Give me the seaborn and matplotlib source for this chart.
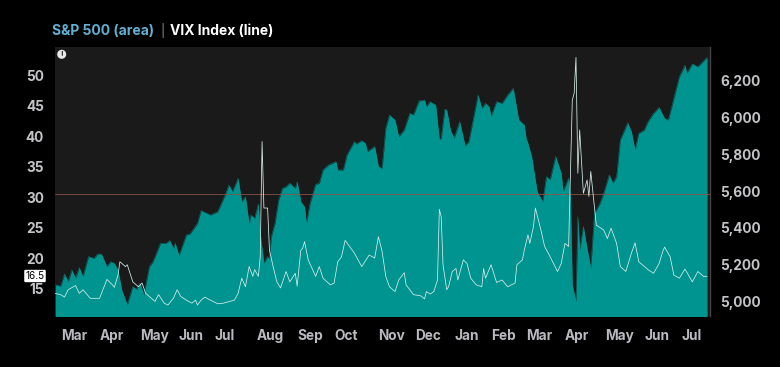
import pandas as pd
import matplotlib.pyplot as plt
import seaborn as sns

# Values, x is the trading session number
sp_sessions = [0,3,5,7,9,11,13,15,18,21,23,25,28,30,32,34,36,39,42,44,46,48,51,53,57,60,62,64,65,67,71,73,77,79,84,88,92,94,96,99,
               101,103,105,106,108,110,111,113,115,116,117,119,121,123,125,127,130,131,133,135,136,138,141,143,145,148,152,153,156,158,162,163,166,168,169,173,175,177,179,181,
               184,186,189,192,194,197,200,201,203,206,208,209,211,212,214,216,219,222,224,229,231,233,235,236,239,242,245,248,251,254,255,256,258,261,264,266,268,271,274,275,278,279,280,282,283,284,286,288,290,292,295,297,300,302,304,306,310,312,314,316,319,321,324,327,330,332,335,338,341,342,345,348,353]
sp_values = [5092,5086,5151,5110,5173,5128,5186,5137,5245,5236,5259,5259,5191,5218,5209,5173,5065,4984,5083,5068,5101,5038,5191,5218,5317,5317,5332,5290,5317,5250,5362,5368,5425,5494,5470,5488,5578,5632,5596,5669,
             5542,5569,5422,5470,5452,5530,5371,5209,5245,5227,5353,5425,5551,5614,5623,5642,5614,5650,5542,5515,5425,5533,5636,5642,5714,5741,5759,5714,5714,5795,5867,5854,5872,5858,5813,5840,5732,5723,5939,6011,
             5984,5894,5930,6020,6011,6087,6092,6056,6083,6065,5879,5885,6042,6038,5930,5885,5975,5843,5867,6119,6047,6074,6056,6002,6083,6074,6119,6155,5984,5957,5885,5858,5786,5596,5542,5678,5660,5786,5696,5596,5669,5569,5092,5002,5461,5281,5407,5290,5182,5479,5533,5587,5687,5642,5678,5876,5969,5921,5822,5912,5930,5975,6020,6052,5993,5984,6101,6218,6281,6236,6287,6272,6323]

vix_sessions = [0,3,5,7,11,13,15,19,23,24,28,31,32,34,35,38,39,42,45,47,49,54,56,59,61,64,66,68,71,74,76,77,79,81,84,88,91,97,99,
                101,103,105,107,108,110,111,112,113,115,116,118,120,122,125,127,130,131,133,134,135,137,141,143,145,149,151,153,155,157,162,166,170,173,175,177,179,181,
                184,186,189,190,194,198,200,201,203,205,207,208,209,210,212,213,215,217,218,221,223,225,228,231,232,233,236,239,242,245,249,250,253,254,256,257,259,260,263,265,267,272,274,276,278,280,281,282,283,284,286,288,289,290,293,297,299,301,304,306,309,312,314,316,321,324,327,329,330,333,335,338,341,345,348,351,353]
vix_values = [14.2,14.0,13.6,14.8,15.5,14.2,14.8,13.4,13.4,13.4,16.5,15.6,15.2,17.2,19.4,18.6,18.9,16.1,15.3,15.9,14.2,12.9,14.0,12.6,12.3,13.4,14.8,13.7,13.1,12.6,13.1,12.3,13.1,13.6,13.1,12.5,12.6,13.1,14.2,
              16.7,15.3,18.6,17.0,18.1,17.0,20.2,39.1,28.2,28.2,21.3,18.6,16.1,15.1,17.8,16.1,17.5,15.4,21.3,21.6,22.7,19.7,17.0,18.6,16.7,15.6,15.9,19.4,20.2,22.9,20.8,18.6,20.5,20.0,23.5,21.1,17.0,15.3,
              14.5,16.4,17.6,15.6,14.0,13.8,13.3,14.5,14.1,14.5,16.4,28.0,26.8,18.9,14.8,15.3,17.8,18.3,16.4,19.7,19.1,16.7,15.6,15.3,18.3,16.7,18.9,16.0,16.4,15.3,15.9,18.9,19.7,21.3,23.8,22.4,25.2,28.2,24.6,21.9,20.8,17.8,19.1,22.4,21.9,45.9,47.0,52.9,33.9,41.0,30.6,32.8,30.1,34.2,25.4,24.6,23.2,24.9,22.4,18.6,17.8,20.8,22.5,19.4,18.1,17.5,19.1,21.1,21.8,20.2,17.2,16.7,18.2,16.1,17.8,17.0,17.0]

month_labels = ["Mar","Apr","May","Jun","Jul","Aug","Sep","Oct","Nov","Dec","Jan","Feb","Mar","Apr","May","Jun","Jul"]
month_sessions = [4,24,46,68,88,111,132,152,175,194,215,236,255,276,297,319,339]
label_sessions = [3,24,46,67,86,109,131,151,175,195,216,236,255,276,298,319,339]
vix_ticks = [15,20,25,30,35,40,45,50]
sp_ticks = [5000,5200,5400,5600,5800,6000,6200]
current_vix = "16.5"
reference_level = 30.45

sp_df = pd.DataFrame({"session": sp_sessions, "close": sp_values})
vix_df = pd.DataFrame({"session": vix_sessions, "close": vix_values})

sns.set_theme(style="dark")
plt.rcParams["font.family"] = ["Inter", "DejaVu Sans"]
plt.rcParams["figure.facecolor"] = "black"

fig = plt.figure(figsize=(7.8, 3.67), dpi=100)
ax = fig.add_axes([54.5/780, 1-316/367, 655/780, 269/367])
ax2 = ax.twinx()

# S&P area goes on the lower axes, VIX line on top
ax.set_zorder(3)
ax.patch.set_visible(False)
ax2.set_zorder(2)
ax2.patch.set_visible(True)
ax2.set_facecolor("#1a1a1a")

sns.lineplot(x="session", y="close", data=sp_df, ax=ax2, color="#009490", linewidth=0.3)
ax2.fill_between(sp_df["session"], sp_df["close"], 4900, color="#009490", linewidth=0, zorder=2)
sns.lineplot(x="session", y="close", data=vix_df, ax=ax, color="#d5efec", linewidth=0.55)
ax.axhline(reference_level, color="#84524c", linewidth=0.6, zorder=1)

ax.set_xlim(-0.4, 354.3)
ax.set_ylim(10.5, 54.6)
ax2.set_ylim(4924, 6379)

# labels sit a little apart from the month gridlines
ax.set_xticks(label_sessions)
ax.set_xticklabels(month_labels, ha="left")
ax.set_xticks(month_sessions, minor=True)
ax.set_yticks(vix_ticks)
ax2.set_yticks(sp_ticks)
ax2.set_yticklabels([f"{t:,}" for t in sp_ticks])

ax2.grid(axis="x", which="minor", color="#2b2b2b", linewidth=0.6)
ax2.grid(axis="x", which="major", visible=False)
ax2.set_axisbelow(True)

ax.set_xlabel("")
ax.set_ylabel("")
ax2.set_ylabel("")
ax.tick_params(axis="x", which="both", length=0, pad=9.5, labelsize=9.8, labelcolor="#b9b9bf")
ax.tick_params(axis="y", length=0, pad=7.5, labelsize=9.8, labelcolor="#c4c4c8")
ax2.tick_params(axis="y", length=0, pad=7.5, labelsize=9.8, labelcolor="#c4c4c8")
for t in ax.get_xticklabels() + ax.get_yticklabels() + ax2.get_yticklabels():
    t.set_fontweight("bold")

for a in [ax, ax2]:
    for s in a.spines.values():
        s.set_visible(False)
ax2.spines["right"].set_visible(True)
ax2.spines["right"].set_color("#444444")
ax2.spines["right"].set_linewidth(1)

# Title in two colours
fig.text(52/780, 1-31/367, "S&P 500 (area)", color="#62b0d3", fontsize=10, fontweight="bold", va="center")
fig.text(160/780, 1-31/367, "|", color="#8a8a8a", fontsize=9, va="center")
fig.text(170.5/780, 1-31/367, "VIX Index (line)", color="white", fontsize=10, fontweight="bold", va="center")

# Current value badge and the info mark
fig.text(35/780, 1-276/367, current_vix, color="black", fontsize=7.2, ha="center", va="center",
         bbox=dict(boxstyle="round,pad=0.12", facecolor="white", edgecolor="none"))
fig.text(61.7/780, 1-54.3/367, "!", color="#222222", fontsize=5.5, fontweight="bold", ha="center", va="center",
         bbox=dict(boxstyle="circle,pad=0.2", facecolor="#e8e8e8", edgecolor="none"))

plt.savefig("out.png", dpi=100, facecolor="black")
